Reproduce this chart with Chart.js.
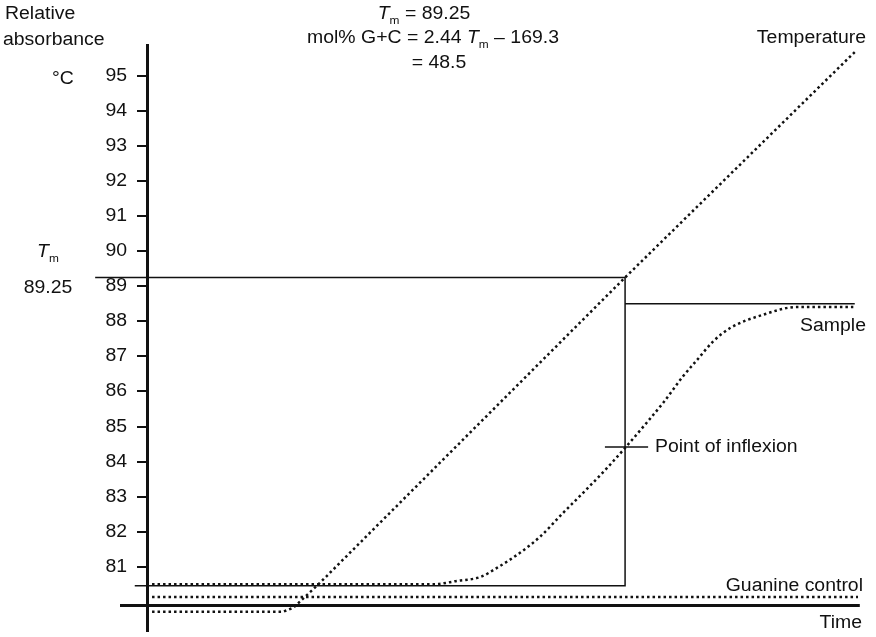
<!DOCTYPE html>
<html>
<head>
<meta charset="utf-8">
<script src="https://cdn.jsdelivr.net/npm/chart.js@4.4.1/dist/chart.umd.min.js"></script>
<style>
  html, body { margin: 0; padding: 0; background: #fff; }
  #wrap { width: 876px; height: 637px; position: relative; }
</style>
</head>
<body>
<div id="wrap"><canvas id="chart"></canvas></div>
<script>
// temperature axis ticks (°C)
const tempTicks = [81, 82, 83, 84, 85, 86, 87, 88, 89, 90, 91, 92, 93, 94, 95];

// time is in arbitrary units, 0-100 across the plot
const tempTime = [0.7, 18.9, 20.3, 21.5, 24.0, 66.4, 98.3];
const tempValues = [79.72, 79.72, 79.83, 80.06, 80.54, 89.25, 95.68];

const sampleTime = [0.7, 39.7, 43.1, 46.3, 48.6, 51.8, 54.6, 57.8, 61.1, 63.9, 66.4, 69.4, 71.7, 74.4, 76.4, 78.6, 81.0, 85.6, 90.3, 98.1];
const sampleValues = [80.5, 80.5, 80.6, 80.71, 80.97, 81.4, 81.86, 82.54, 83.22, 83.82, 84.39, 85.11, 85.68, 86.42, 86.9, 87.42, 87.81, 88.19, 88.41, 88.41];

const guanineTime = [0.7, 98.75];
const guanineValues = [80.14, 80.14];

// construction lines
const tm = 89.25;
const inflexionTime = 66.4;
const inflexionValue = 84.42;
const sampleLow = 80.46;
const sampleHigh = 88.5;
const timeAxisValue = 79.9;

const toXY = (xs, ys) => xs.map((x, i) => ({x: x, y: ys[i]}));

const FONT = '"Liberation Sans", Arial, Helvetica, sans-serif';
const SIZE = 18;
const STRETCH = 1.08; // the printed lettering is a little wider than Arial

// text notes: parts are [text, style] with style '' | 'i' (italic) | 's' (subscript)
const notes = [
    {x: 5, y: 14, align: 'left', parts: [['Relative']]},
    {x: 3, y: 40, align: 'left', parts: [['absorbance']]},
    {x: 63, y: 79, align: 'center', parts: [['°C']]},
    {x: 424, y: 14, align: 'center', parts: [['T', 'i'], ['m', 's'], [' = 89.25']]},
    {x: 433, y: 38, align: 'center', parts: [['mol% G+C = 2.44 '], ['T', 'i'], ['m', 's'], [' \u2013 169.3']]},
    {x: 439, y: 63, align: 'center', parts: [['= 48.5']]},
    {x: 48, y: 252, align: 'center', parts: [['T', 'i'], ['m', 's']]},
    {x: 48, y: 288, align: 'center', parts: [['89.25']]},
    {x: 866, y: 38, align: 'right', parts: [['Temperature']]},
    {x: 866, y: 326, align: 'right', parts: [['Sample']]},
    {x: 655, y: 447, align: 'left', parts: [['Point of inflexion']]},
    {x: 863, y: 586, align: 'right', parts: [['Guanine control']]},
    {x: 862, y: 623, align: 'right', parts: [['Time']]}
];

function partFont(style) {
    if (style === 'i') return 'italic ' + SIZE + 'px ' + FONT;
    if (style === 's') return Math.round(SIZE * 0.6) + 'px ' + FONT;
    return SIZE + 'px ' + FONT;
}

function drawParts(ctx, x0, y, parts, align) {
    let total = 0;
    const widths = parts.map(p => {
        ctx.font = partFont(p[1]);
        const w = ctx.measureText(p[0]).width * STRETCH;
        total += w;
        return w;
    });
    let x = x0;
    if (align === 'center') x -= total / 2;
    if (align === 'right') x -= total;
    parts.forEach((p, i) => {
        ctx.font = partFont(p[1]);
        ctx.save();
        ctx.translate(x, p[1] === 's' ? y + 7 : y);
        ctx.scale(STRETCH, 1);
        ctx.fillText(p[0], 0, 0);
        ctx.restore();
        x += widths[i];
    });
}

const notesPlugin = {
    id: 'notes',
    afterDraw(chart) {
        const ctx = chart.ctx;
        const yScale = chart.scales.y;
        ctx.save();
        ctx.fillStyle = '#111';
        ctx.textBaseline = 'middle';
        ctx.textAlign = 'left';
        // tick labels of the temperature axis
        yScale.ticks.forEach(t => {
            drawParts(ctx, yScale.right - 20, yScale.getPixelForValue(t.value), [[String(t.value)]], 'right');
        });
        notes.forEach(n => drawParts(ctx, n.x, n.y, n.parts, n.align));
        ctx.restore();
    }
};

const dotted = {borderColor: '#111', borderWidth: 2.5, borderDash: [2.5, 3], pointRadius: 0, fill: false, tension: 0, clip: false};
const solid = {borderColor: '#111', borderWidth: 1.5, pointRadius: 0, fill: false, tension: 0, clip: false};

new Chart(document.getElementById('chart'), {
    type: 'line',
    data: {
        datasets: [
            Object.assign({label: 'Temperature', data: toXY(tempTime, tempValues)}, dotted),
            Object.assign({label: 'Sample', data: toXY(sampleTime, sampleValues), cubicInterpolationMode: 'monotone'}, dotted),
            Object.assign({label: 'Guanine control', data: toXY(guanineTime, guanineValues)}, dotted),
            Object.assign({label: 'Tm', data: toXY([-7.2, inflexionTime, inflexionTime, -1.7], [tm, tm, sampleLow, sampleLow])}, solid),
            Object.assign({label: 'Plateau', data: toXY([inflexionTime, 98.3], [sampleHigh, sampleHigh])}, solid),
            Object.assign({label: 'Inflexion', data: toXY([63.6, 69.6], [inflexionValue, inflexionValue])}, solid),
            Object.assign({label: 'Time', data: toXY([-3.75, 99], [timeAxisValue, timeAxisValue])}, solid, {borderWidth: 3})
        ]
    },
    options: {
        responsive: true,
        maintainAspectRatio: false,
        animation: false,
        layout: {padding: {left: 0, right: 9, top: 45, bottom: 6}},
        plugins: {legend: {display: false}, tooltip: {enabled: false}},
        scales: {
            x: {type: 'linear', min: 0, max: 100, display: false},
            y: {
                type: 'linear',
                min: 79.17,
                max: 95.88,
                afterBuildTicks: scale => { scale.ticks = tempTicks.map(v => ({value: v})); },
                afterFit: scale => { scale.width = 147; scale.paddingTop = 0; scale.paddingBottom = 0; },
                border: {display: true, color: '#111', width: 3},
                grid: {drawOnChartArea: false, drawTicks: true, tickLength: 10, lineWidth: 2, color: '#111'},
                ticks: {display: false}
            }
        }
    },
    plugins: [notesPlugin]
});
</script>
</body>
</html>
